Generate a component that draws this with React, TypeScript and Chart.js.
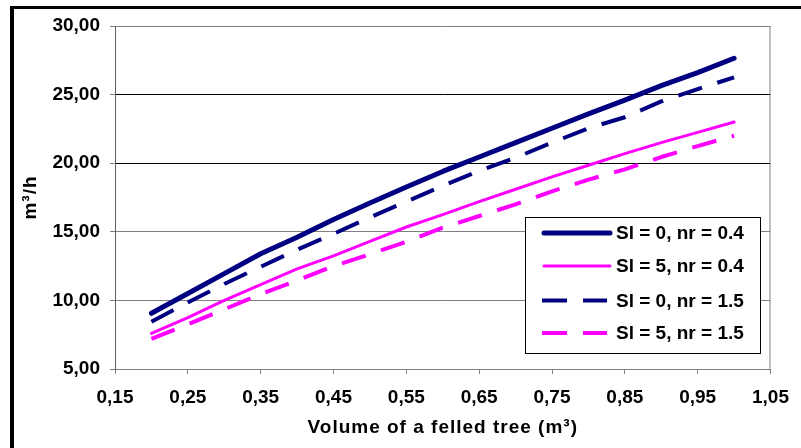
import React, { useEffect, useRef } from 'react';
import { Chart, registerables } from 'chart.js';

Chart.register(...registerables);

// ---- data ----
const volumes = [0.2, 0.25, 0.3, 0.35, 0.4, 0.45, 0.5, 0.55, 0.6, 0.65, 0.7, 0.75, 0.8, 0.85, 0.9, 0.95, 1.0];
const si0nr04 = [9.06, 10.5, 11.95, 13.4, 14.6, 15.9, 17.1, 18.27, 19.4, 20.45, 21.5, 22.55, 23.6, 24.6, 25.65, 26.6, 27.65];
const si5nr04 = [7.6, 8.75, 10.0, 11.15, 12.3, 13.25, 14.3, 15.35, 16.25, 17.2, 18.1, 19.0, 19.85, 20.7, 21.5, 22.25, 23.0];
const si0nr15 = [8.45, 9.85, 11.2, 12.45, 13.7, 14.85, 16.05, 17.2, 18.35, 19.45, 20.4, 21.5, 22.55, 23.35, 24.5, 25.4, 26.26];
const si5nr15 = [7.2, 8.25, 9.35, 10.45, 11.45, 12.5, 13.37, 14.27, 15.3, 16.15, 17.0, 17.95, 18.8, 19.55, 20.45, 21.25, 22.0];
const seriesLabels = ['Sl = 0, nr = 0.4', 'Sl = 5, nr = 0.4', 'Sl = 0, nr = 1.5', 'Sl = 5, nr = 1.5'];
const xTickValues = [0.15, 0.25, 0.35, 0.45, 0.55, 0.65, 0.75, 0.85, 0.95, 1.05];
const yTickValues = [5, 10, 15, 20, 25, 30];
const xTitle = 'Volume of a felled tree (m³)';
const yTitle = 'm³/h';

const NAVY = '#000080';
const MAGENTA = '#FF00FF';
const FONT = "'Liberation Sans', Arial, sans-serif";

const seriesStyles = [
  { color: NAVY, width: 5, dash: [] as number[], cap: 'round' as CanvasLineCap },
  { color: MAGENTA, width: 3, dash: [] as number[], cap: 'round' as CanvasLineCap },
  { color: NAVY, width: 4, dash: [25, 16], cap: 'butt' as CanvasLineCap },
  { color: MAGENTA, width: 4, dash: [25, 16], cap: 'butt' as CanvasLineCap },
];

const fmt = (v: number) => Number(v).toFixed(2).replace('.', ',');

const decorPlugin = {
  id: 'decor',
  afterDraw(chart: any) {
    const ctx: CanvasRenderingContext2D = chart.ctx;
    const area = chart.chartArea;
    ctx.save();
    // outer frame
    ctx.fillStyle = '#000';
    ctx.fillRect(10, 6, 801, 3);
    ctx.fillRect(10, 6, 4, 448);
    // right plot border
    ctx.strokeStyle = '#808080';
    ctx.lineWidth = 1;
    ctx.beginPath();
    ctx.moveTo(area.right - 0.5, area.top);
    ctx.lineTo(area.right - 0.5, area.bottom);
    ctx.stroke();

    // legend
    const lx = 525.5, ly = 217.5, lw = 235, lh = 136;
    ctx.fillStyle = '#fff';
    ctx.fillRect(lx, ly, lw, lh);
    ctx.strokeStyle = '#000';
    ctx.lineWidth = 1;
    ctx.strokeRect(lx, ly, lw, lh);
    const rowsY = [233, 266, 300.5, 333];
    seriesLabels.forEach((label, i) => {
      const st = seriesStyles[i];
      const y = rowsY[i];
      ctx.save();
      ctx.strokeStyle = st.color;
      ctx.lineWidth = st.width;
      ctx.lineCap = st.cap;
      ctx.setLineDash(st.dash);
      ctx.beginPath();
      const start = st.dash.length ? 542 : 544;
      const end = st.dash.length ? 607 : 610;
      ctx.moveTo(start, y);
      ctx.lineTo(end, y);
      ctx.stroke();
      ctx.restore();
      ctx.fillStyle = '#000';
      ctx.font = `bold 19px ${FONT}`;
      ctx.textAlign = 'left';
      ctx.textBaseline = 'middle';
      ctx.fillText(label, 616, y + 1);
    });

    // axis titles
    ctx.fillStyle = '#000';
    ctx.font = `bold 19px ${FONT}`;
    (ctx as any).letterSpacing = '1px';
    ctx.textAlign = 'center';
    ctx.textBaseline = 'middle';
    ctx.fillText(xTitle, (area.left + area.right) / 2, 428);
    ctx.save();
    ctx.translate(31, (area.top + area.bottom) / 2);
    ctx.rotate(-Math.PI / 2);
    ctx.fillText(yTitle, 0, 0);
    ctx.restore();
    (ctx as any).letterSpacing = '0px';
    ctx.restore();
  },
};

export default function App() {
  const ref = useRef<HTMLCanvasElement | null>(null);

  useEffect(() => {
    document.body.style.margin = '0';
    const canvas = ref.current;
    if (!canvas) return;
    const allSeries = [si0nr04, si5nr04, si0nr15, si5nr15];
    const chart = new Chart(canvas, {
      type: 'line',
      data: {
        datasets: allSeries.map((s, i) => ({
          label: seriesLabels[i],
          data: volumes.map((x, j) => ({ x, y: s[j] })),
          borderColor: seriesStyles[i].color,
          backgroundColor: seriesStyles[i].color,
          borderWidth: seriesStyles[i].width,
          borderDash: seriesStyles[i].dash,
          borderCapStyle: seriesStyles[i].cap,
          borderJoinStyle: 'round',
          pointRadius: 0,
          tension: 0,
          fill: false,
        })),
      },
      options: {
        responsive: false,
        animation: false,
        events: [],
        layout: { padding: { left: 0, right: 24, top: 26, bottom: 0 } },
        plugins: {
          legend: { display: false },
          tooltip: { enabled: false },
          title: { display: false },
        },
        scales: {
          x: {
            type: 'linear',
            min: 0.15,
            max: 1.05,
            afterBuildTicks: (scale: any) => {
              scale.ticks = xTickValues.map((value) => ({ value }));
            },
            afterFit: (scale: any) => {
              scale.height = 79;
            },
            grid: {
              drawOnChartArea: false,
              drawTicks: true,
              tickLength: 5,
              color: '#808080',
              tickColor: '#808080',
            },
            border: { display: true, color: '#808080', width: 1 },
            ticks: {
              autoSkip: false,
              maxRotation: 0,
              minRotation: 0,
              padding: 12,
              color: '#000',
              font: { family: FONT, size: 19, weight: 'bold' },
              callback: (v: any) => fmt(v),
            },
          },
          y: {
            type: 'linear',
            min: 5,
            max: 30,
            afterBuildTicks: (scale: any) => {
              scale.ticks = yTickValues.map((value) => ({ value }));
            },
            afterFit: (scale: any) => {
              scale.width = 115;
            },
            grid: {
              drawTicks: true,
              tickLength: 5,
              color: (c: any) => {
                const v = c.tick ? c.tick.value : 0;
                return v === 20 || v === 25 ? '#000' : '#808080';
              },
              tickColor: '#808080',
            },
            border: { display: true, color: '#606060', width: 1 },
            ticks: {
              padding: 10,
              color: '#000',
              font: { family: FONT, size: 19, weight: 'bold' },
              callback: (v: any) => fmt(v),
            },
          },
        },
      },
      plugins: [decorPlugin],
    } as any);
    return () => chart.destroy();
  }, []);

  return (
    <div style={{ position: 'absolute', left: 0, top: 0, width: 801, height: 448, background: '#fff' }}>
      <canvas ref={ref} width={801} height={448} style={{ display: 'block', width: 801, height: 448 }} />
    </div>
  );
}
